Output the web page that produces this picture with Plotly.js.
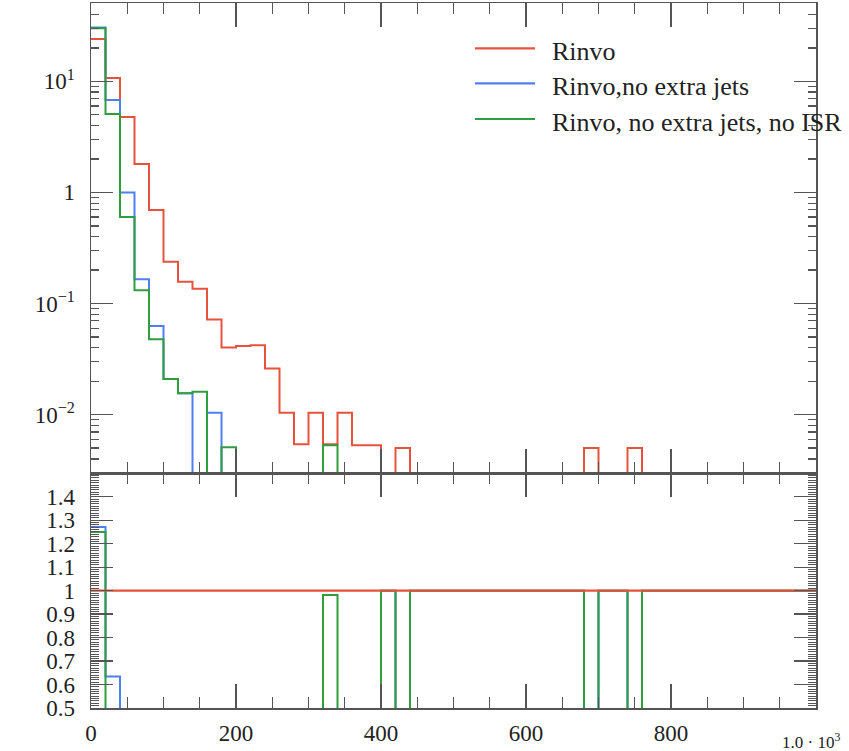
<!DOCTYPE html>
<html>
<head>
<meta charset="utf-8">
<script src="https://cdn.plot.ly/plotly-3.0.1.min.js"></script>
<style>
  html, body { margin: 0; padding: 0; background: #ffffff; }
  #chart { width: 849px; height: 751px; }
</style>
</head>
<body>
<div id="chart"></div>
<script>
// ---- data: histogram bins (lower edges) and contents ----
const binLow = [0, 20, 40, 60, 80, 100, 120, 140, 160, 180,
                200, 220, 240, 260, 280, 300, 320, 340, 360, 380,
                400, 420, 440, 460, 480, 500, 520, 540, 560, 580,
                600, 620, 640, 660, 680, 700, 720, 740, 760, 780,
                800, 820, 840, 860, 880, 900, 920, 940, 960, 980];
const binHigh = 1000;

const seriesNames = ["Rinvo", "Rinvo,no extra jets", "Rinvo, no extra jets, no ISR"];

const rinvo = [24.0, 10.7, 4.77, 1.80, 0.695, 0.238, 0.157, 0.136, 0.0718, 0.0402,
               0.0415, 0.0422, 0.026, 0.0104, 0.0054, 0.0104, 0.0054, 0.0104, 0.0053, 0.0053,
               0, 0.0050, 0, 0, 0, 0, 0, 0, 0, 0,
               0, 0, 0, 0, 0.0050, 0, 0, 0.0050, 0, 0,
               0, 0, 0, 0, 0, 0, 0, 0, 0, 0];

const rinvoNoJets = [30.5, 6.79, 1.0, 0.165, 0.0628, 0.0209, 0.01555, 0, 0.0104, 0,
                     0, 0, 0, 0, 0, 0, 0, 0, 0, 0,
                     0, 0, 0, 0, 0, 0, 0, 0, 0, 0,
                     0, 0, 0, 0, 0, 0, 0, 0, 0, 0,
                     0, 0, 0, 0, 0, 0, 0, 0, 0, 0];

const rinvoNoJetsNoISR = [30.0, 5.08, 0.60, 0.132, 0.0476, 0.0209, 0.01555, 0.0161, 0, 0.00508,
                          0, 0, 0, 0, 0, 0, 0.0053, 0, 0, 0,
                          0, 0, 0, 0, 0, 0, 0, 0, 0, 0,
                          0, 0, 0, 0, 0, 0, 0, 0, 0, 0,
                          0, 0, 0, 0, 0, 0, 0, 0, 0, 0];

const yTickVals = [0.01, 0.1, 1, 10];
const yTickText = ["10<sup>−2</sup>", "10<sup>−1</sup>", "1", "10<sup>1</sup>"];
const ratioTickVals = [0.5, 0.6, 0.7, 0.8, 0.9, 1.0, 1.1, 1.2, 1.3, 1.4];
const ratioTickText = ["0.5", "0.6", "0.7", "0.8", "0.9", "1", "1.1", "1.2", "1.3", "1.4"];
const xTickVals = [0, 200, 400, 600, 800];
const xTickText = ["0", "200", "400", "600", "800"];

// ---- styles ----
const colors = ["#e6523c", "#4f7ff0", "#2f9e3f"];
const FONT = "Liberation Serif, Times New Roman, serif";
const AX = "#555555";
const FLOOR = 1e-5;   // stand-in for empty bins on the log axis (drawn below the frame)

const edges = binLow.concat([binHigh]);
function stepY(vals) { return vals.concat([vals[vals.length - 1]]); }
function logSafe(vals) { return vals.map(v => v > 0 ? v : FLOOR); }
function ratio(vals, ref) {
  return vals.map((v, i) => ref[i] > 0 ? v / ref[i] : 1);
}

const all = [rinvo, rinvoNoJets, rinvoNoJetsNoISR];
const traces = [];
// top panel: red, blue, green
all.forEach((s, k) => {
  traces.push({
    x: edges, y: stepY(logSafe(s)), mode: "lines", name: seriesNames[k],
    line: { shape: "hv", color: colors[k], width: 2 },
    xaxis: "x", yaxis: "y", showlegend: false, hoverinfo: "skip"
  });
});
// ratio panel: blue, green, then red on top
[1, 2, 0].forEach(k => {
  traces.push({
    x: edges, y: stepY(ratio(all[k], rinvo)), mode: "lines", name: seriesNames[k],
    line: { shape: "hv", color: colors[k], width: k === 0 ? 2.4 : 2 },
    xaxis: "x2", yaxis: "y2", showlegend: false, hoverinfo: "skip"
  });
});

// minor log tick positions
const logMinor = [];
for (let e = -3; e <= 1; e++) {
  for (let m = 2; m <= 9; m++) logMinor.push(m * Math.pow(10, e));
}

const common = {
  showline: true, linecolor: AX, linewidth: 1.5, mirror: "allticks",
  showgrid: false, zeroline: false, ticks: "inside", tickcolor: AX, tickwidth: 1.3
};

const plotL = 91, plotR = 816, plotT = 3, plotB = 708;
const W = 849, H = 751;
const pw = plotR - plotL, ph = plotB - plotT;
const px = x => (x - plotL) / pw;
const py = y => (plotB - y) / ph;
const split = py(473.3);

const shapes = [];
const annotations = [];
const legendY = [48.3, 83.3, 119];
seriesNames.forEach((n, k) => {
  shapes.push({
    type: "line", xref: "paper", yref: "paper",
    x0: px(475), x1: px(535), y0: py(legendY[k]), y1: py(legendY[k]),
    line: { color: colors[k], width: 2.2 }
  });
  annotations.push({
    xref: "paper", yref: "paper", x: px(550), y: py(legendY[k] + 3),
    xanchor: "left", yanchor: "middle", showarrow: false, text: n,
    font: { family: FONT, size: 26, color: "#222" }
  });
});
annotations.push({
  xref: "paper", yref: "paper", x: px(780), y: py(741),
  xanchor: "left", yanchor: "middle", showarrow: false, text: "1.0 · 10<sup>3</sup>",
  font: { family: FONT, size: 17, color: "#222" }
});

const layout = {
  width: W, height: H,
  margin: { l: plotL, r: W - plotR, t: plotT, b: H - plotB, pad: 0 },
  paper_bgcolor: "#ffffff", plot_bgcolor: "#ffffff",
  font: { family: FONT, size: 23, color: "#222" },
  showlegend: false,
  xaxis: Object.assign({}, common, {
    domain: [0, 1], range: [0, 1000], anchor: "y", showticklabels: false,
    tickmode: "linear", tick0: 0, dtick: 200, ticklen: 24,
    minor: { ticks: "inside", dtick: 50, tick0: 0, ticklen: 11, tickcolor: AX, tickwidth: 1.3 }
  }),
  yaxis: Object.assign({}, common, {
    domain: [split, 1], type: "log", range: [-2.528, 1.705], anchor: "x",
    tickmode: "array", tickvals: yTickVals, ticktext: yTickText, ticklen: 22,
    ticklabelstandoff: 10,
    minor: { ticks: "inside", tickmode: "array", tickvals: logMinor, ticklen: 8, tickcolor: AX, tickwidth: 1.3 }
  }),
  xaxis2: Object.assign({}, common, {
    domain: [0, 1], range: [0, 1000], anchor: "y2",
    tickmode: "array", tickvals: xTickVals, ticktext: xTickText, ticklen: 24,
    ticklabelstandoff: 4,
    minor: { ticks: "inside", dtick: 50, tick0: 0, ticklen: 11, tickcolor: AX, tickwidth: 1.3 }
  }),
  yaxis2: Object.assign({}, common, {
    domain: [0, split], range: [0.5, 1.5], anchor: "x2",
    tickmode: "array", tickvals: ratioTickVals, ticktext: ratioTickText, ticklen: 22,
    ticklabelstandoff: 10,
    minor: { ticks: "inside", dtick: 0.01, tick0: 0, ticklen: 8, tickcolor: AX, tickwidth: 1 }
  }),
  shapes: shapes,
  annotations: annotations
};

Plotly.newPlot("chart", traces, layout, { staticPlot: true, displayModeBar: false });
</script>
</body>
</html>
